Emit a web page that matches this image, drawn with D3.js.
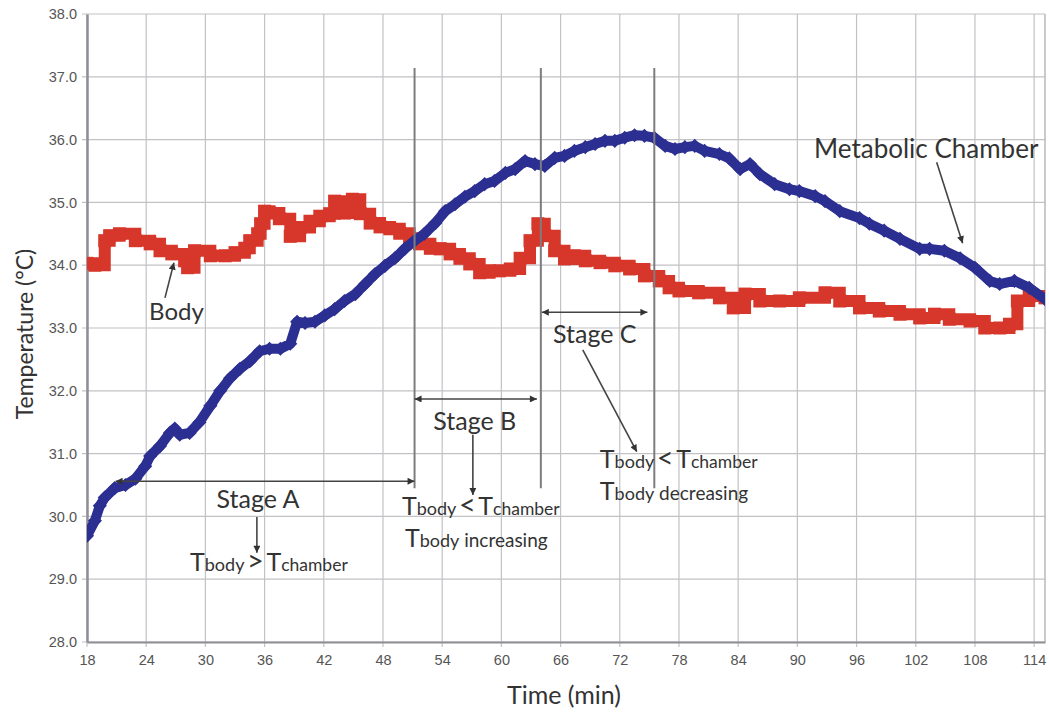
<!DOCTYPE html>
<html>
<head>
<meta charset="utf-8">
<script src="https://cdn.jsdelivr.net/npm/d3@7"></script>
<style>
  html, body { margin: 0; padding: 0; background: #fff; }
  svg { display: block; }
  .tick text { font-family: "Liberation Sans", Arial, sans-serif; font-size: 14.5px; fill: #555; }
  .note { font-family: Lato, "Open Sans", sans-serif; fill: #333; }
</style>
</head>
<body>
<svg id="chart" width="1049" height="713"></svg>
<script>
// Time (min) and temperature (°C) readings of the metabolic chamber air
const chamberTime = [18.0, 18.8, 19.3, 19.8, 20.8, 21.9, 22.9, 23.9, 24.4, 25.4, 26.4, 26.9, 27.4, 28.4, 29.4, 30.5, 31.5, 32.5, 33.5, 34.5, 35.5, 36.5, 37.6, 38.6, 39.3, 40.1, 41.1, 42.1, 43.1, 44.1, 45.2, 46.2, 47.2, 48.2, 49.2, 50.2, 51.2, 52.2, 53.3, 54.3, 55.3, 56.3, 57.3, 58.3, 59.3, 60.4, 61.4, 62.4, 63.4, 64.4, 65.4, 66.4, 67.4, 68.5, 69.5, 70.5, 71.5, 72.5, 73.5, 74.5, 75.5, 76.6, 77.6, 78.6, 79.6, 80.6, 82.1, 83.1, 84.2, 85.2, 86.2, 87.7, 89.2, 90.2, 91.8, 92.8, 94.3, 96.3, 97.3, 98.8, 100.4, 102.4, 103.4, 104.9, 106.5, 108.0, 109.5, 110.5, 112.0, 113.5, 115.1];
const chamberTemp = [29.69, 29.93, 30.17, 30.30, 30.45, 30.50, 30.60, 30.80, 30.96, 31.12, 31.33, 31.40, 31.30, 31.33, 31.50, 31.76, 32.00, 32.20, 32.35, 32.47, 32.63, 32.67, 32.67, 32.75, 33.10, 33.08, 33.10, 33.20, 33.30, 33.43, 33.54, 33.70, 33.86, 33.99, 34.11, 34.26, 34.39, 34.50, 34.67, 34.86, 34.97, 35.09, 35.18, 35.29, 35.34, 35.47, 35.53, 35.66, 35.61, 35.58, 35.71, 35.74, 35.82, 35.88, 35.93, 35.98, 35.98, 36.03, 36.07, 36.06, 36.03, 35.90, 35.85, 35.88, 35.90, 35.82, 35.77, 35.70, 35.53, 35.61, 35.45, 35.29, 35.21, 35.18, 35.10, 35.02, 34.86, 34.75, 34.66, 34.55, 34.42, 34.26, 34.26, 34.23, 34.11, 33.96, 33.75, 33.70, 33.75, 33.64, 33.46];

// Time (min) and body temperature (°C) readings
const bodyTime = [18.0, 18.8, 19.8, 20.3, 21.3, 22.9, 24.4, 25.4, 26.6, 27.9, 28.2, 28.9, 30.5, 32.0, 33.0, 34.0, 34.5, 35.3, 35.6, 36.0, 36.5, 37.5, 38.6, 39.6, 40.6, 41.6, 42.6, 43.1, 44.1, 44.9, 45.7, 46.7, 47.7, 48.7, 49.7, 50.7, 51.7, 52.8, 53.8, 54.8, 55.8, 56.8, 57.8, 58.8, 59.8, 60.9, 61.9, 62.9, 63.7, 64.4, 65.4, 66.4, 67.4, 68.5, 70.0, 71.5, 73.0, 74.5, 76.0, 77.0, 78.0, 80.0, 82.1, 83.5, 84.7, 86.2, 88.2, 90.2, 92.8, 94.3, 96.3, 98.3, 100.4, 102.4, 103.9, 105.4, 107.5, 109.0, 110.5, 111.5, 112.3, 113.5, 115.1];
const bodyTemp = [34.03, 34.00, 34.39, 34.47, 34.50, 34.39, 34.34, 34.23, 34.18, 34.07, 33.96, 34.23, 34.15, 34.15, 34.20, 34.27, 34.39, 34.50, 34.66, 34.86, 34.83, 34.74, 34.46, 34.60, 34.70, 34.78, 34.82, 35.02, 34.83, 35.05, 34.82, 34.67, 34.61, 34.58, 34.51, 34.43, 34.34, 34.27, 34.26, 34.18, 34.11, 34.02, 33.88, 33.91, 33.91, 33.94, 34.11, 34.39, 34.66, 34.47, 34.23, 34.10, 34.15, 34.07, 34.04, 33.99, 33.94, 33.83, 33.75, 33.64, 33.59, 33.56, 33.48, 33.32, 33.54, 33.43, 33.43, 33.48, 33.56, 33.43, 33.32, 33.27, 33.22, 33.16, 33.22, 33.14, 33.11, 33.00, 33.00, 33.06, 33.43, 33.51, 33.48];

// Axis ticks
const timeTicks = [18, 24, 30, 36, 42, 48, 54, 60, 66, 72, 78, 84, 90, 96, 102, 108, 114];
const tempTicks = [28, 29, 30, 31, 32, 33, 34, 35, 36, 37, 38];

// Stage boundaries (min)
const stageBounds = [51.2, 64.0, 75.5];

const svg = d3.select("#chart");
const margin = { left: 87, top: 14, right: 4, bottom: 71 };
const W = 1049, H = 713;

const x = d3.scaleLinear().domain([18, 115.1]).range([margin.left, W - margin.right]);
const y = d3.scaleLinear().domain([28, 38]).range([H - margin.bottom, margin.top]);

const defs = svg.append("defs");
defs.append("clipPath").attr("id", "plot")
  .append("rect")
  .attr("x", margin.left).attr("y", margin.top)
  .attr("width", x.range()[1] - margin.left)
  .attr("height", y.range()[0] - margin.top);

function arrowHead(id, color) {
  defs.append("marker").attr("id", id)
    .attr("viewBox", "0 0 10 10").attr("refX", 10).attr("refY", 5)
    .attr("markerWidth", 10).attr("markerHeight", 7)
    .attr("markerUnits", "userSpaceOnUse")
    .attr("orient", "auto-start-reverse")
    .append("path").attr("d", "M0,0 L10,5 L0,10 Z").attr("fill", color);
}
arrowHead("arr", "#333");

// Grid
const grid = svg.append("g");
grid.selectAll(".gx").data(timeTicks).join("line")
  .attr("x1", d => x(d)).attr("x2", d => x(d))
  .attr("y1", y(38)).attr("y2", y(28) + 5)
  .attr("stroke", "#c2c2c6").attr("stroke-width", 1.2);
grid.selectAll(".gy").data(tempTicks).join("line")
  .attr("x1", x(18) - 5).attr("x2", x.range()[1])
  .attr("y1", d => y(d)).attr("y2", d => y(d))
  .attr("stroke", "#c2c2c6").attr("stroke-width", 1.2);

// Frame
svg.append("line").attr("x1", x.range()[1]).attr("x2", x.range()[1])
  .attr("y1", y(38)).attr("y2", y(28)).attr("stroke", "#b8b8bc").attr("stroke-width", 1.5);

// Axes
const xAxis = d3.axisBottom(x).tickValues(timeTicks).tickSize(0).tickPadding(13).tickFormat(d3.format("d"));
const yAxis = d3.axisLeft(y).tickValues(tempTicks).tickSize(0).tickPadding(10).tickFormat(d3.format(".1f"));

const gx = svg.append("g").attr("class", "x-axis").attr("transform", `translate(0,${y(28)})`).call(xAxis);
const gy = svg.append("g").attr("class", "y-axis").attr("transform", `translate(${x(18)},0)`).call(yAxis);
gx.select(".domain").attr("stroke", "#8f8f95").attr("stroke-width", 2);
gy.select(".domain").attr("stroke", "#8f8f95").attr("stroke-width", 2.5);

// Axis titles
svg.append("text").attr("class", "note")
  .attr("x", 564).attr("y", 704)
  .attr("text-anchor", "middle").attr("font-size", 25)
  .text("Time (min)");
svg.append("text").attr("class", "note")
  .attr("transform", `translate(33,${(y(28) + y(38)) / 2 + 6}) rotate(-90)`)
  .attr("text-anchor", "middle").attr("font-size", 23)
  .text("Temperature (°C)");

// Data series
const plot = svg.append("g").attr("clip-path", "url(#plot)");
const chamber = chamberTime.map((t, i) => [t, chamberTemp[i]]);
const body = bodyTime.map((t, i) => [t, bodyTemp[i]]);

const red = "#d7372a", blue = "#2c2f92";

plot.append("path").datum(body)
  .attr("fill", "none").attr("stroke", red).attr("stroke-width", 12)
  .attr("stroke-linejoin", "miter")
  .attr("d", d3.line().x(d => x(d[0])).y(d => y(d[1])).curve(d3.curveStepAfter));
plot.selectAll(".bm").data(body).join("rect")
  .attr("x", d => x(d[0]) - 6.5).attr("y", d => y(d[1]) - 6.5)
  .attr("width", 13).attr("height", 13).attr("fill", red);

plot.append("path").datum(chamber)
  .attr("fill", "none").attr("stroke", blue).attr("stroke-width", 10)
  .attr("stroke-linejoin", "round")
  .attr("d", d3.line().x(d => x(d[0])).y(d => y(d[1])));
plot.selectAll(".cm").data(chamber).join("rect")
  .attr("x", -5).attr("y", -5).attr("width", 10).attr("height", 10)
  .attr("transform", d => `translate(${x(d[0])},${y(d[1])}) rotate(45)`)
  .attr("fill", blue);

// Stage boundaries
const ann = svg.append("g");
ann.selectAll(".sb").data(stageBounds).join("line")
  .attr("x1", d => x(d)).attr("x2", d => x(d))
  .attr("y1", y(37.14)).attr("y2", y(30.45))
  .attr("stroke", "#7d7d80").attr("stroke-width", 2);

function arrow(t1, v1, t2, v2, both) {
  const l = ann.append("line")
    .attr("x1", x(t1)).attr("y1", y(v1)).attr("x2", x(t2)).attr("y2", y(v2))
    .attr("stroke", "#444").attr("stroke-width", 1.6)
    .attr("marker-end", "url(#arr)");
  if (both) l.attr("marker-start", "url(#arr)");
}

// Stage spans
arrow(20.9, 30.56, 51.2, 30.56, true);
arrow(51.2, 31.87, 63.6, 31.87, true);
arrow(64.1, 33.25, 74.8, 33.25, true);

function label(t, v, txt, size, anchor) {
  ann.append("text").attr("class", "note")
    .attr("x", x(t)).attr("y", y(v))
    .attr("text-anchor", anchor || "middle").attr("font-size", size)
    .text(txt);
}
// T with smaller words on the same baseline
function relation(t, v, parts) {
  const tx = ann.append("text").attr("class", "note")
    .attr("x", x(t)).attr("y", y(v));
  parts.forEach(([s, size]) => tx.append("tspan").attr("font-size", size).text(s));
}
const rel = sym => [["T", 25], ["body", 18], [" ", 10], [sym, 29], [" ", 10], ["T", 25], ["chamber", 17.5]];

label(35.33, 30.13, "Stage A", 25);
arrow(35.22, 29.99, 35.22, 29.42, false);
relation(28.44, 29.13, rel(">"));

label(57.3, 31.38, "Stage B", 25);
arrow(57.11, 31.30, 57.11, 30.34, false);
relation(49.92, 30.02, rel("<"));
relation(50.22, 29.51, [["T", 25], ["body", 18], [" increasing", 19]]);

label(69.47, 32.76, "Stage C", 25);
arrow(68.25, 32.65, 73.72, 31.03, false);
relation(69.98, 30.77, rel("<"));
relation(69.98, 30.26, [["T", 25], ["body", 18], [" decreasing", 19]]);

label(27.07, 33.13, "Body", 24);
arrow(25.9, 33.48, 26.81, 34.04, false);

label(103.06, 35.71, "Metabolic Chamber", 26);
arrow(104.12, 35.64, 106.75, 34.35, false);
</script>
</body>
</html>
